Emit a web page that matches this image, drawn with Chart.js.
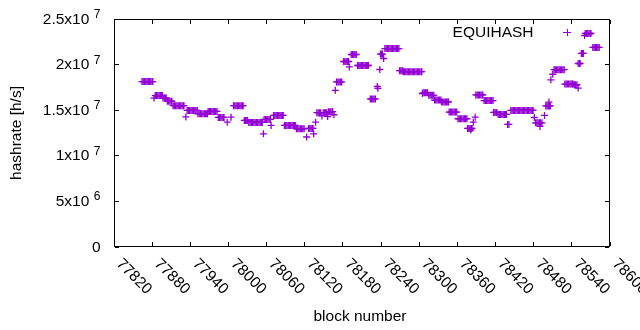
<!DOCTYPE html>
<html>
<head>
<meta charset="utf-8">
<script src="https://cdn.jsdelivr.net/npm/chart.js@4.4.1/dist/chart.umd.min.js"></script>
<style>
  html, body { margin: 0; padding: 0; background: #fff; }
  canvas { display: block; }
</style>
</head>
<body>
<canvas id="hashChart" width="640" height="330"></canvas>
<script>
// blocks, grouped by runs sharing one hashrate value
const blockRuns = [
  [77864, 77866, 77868, 77870, 77872, 77874, 77876, 77878, 77880, 77881],
  [77883],
  [77885, 77887, 77889, 77891, 77893, 77895, 77896],
  [77897, 77899, 77901, 77902],
  [77904, 77906, 77908, 77910, 77911],
  [77913, 77915, 77917, 77919, 77921, 77923, 77925, 77927, 77929, 77930],
  [77933],
  [77935, 77937, 77939, 77941, 77943, 77945, 77947, 77949, 77951],
  [77952, 77954, 77956, 77958, 77960, 77962, 77964, 77966, 77967],
  [77968, 77970, 77972, 77974, 77976, 77978, 77980, 77982],
  [77984, 77986, 77988, 77990, 77992, 77993],
  [77998],
  [78004],
  [78008, 78010, 78012, 78014, 78016, 78018, 78020, 78022, 78023],
  [78025, 78027, 78029, 78030],
  [78032, 78034, 78036, 78038, 78040, 78042, 78044, 78046, 78048, 78050, 78052, 78053],
  [78055],
  [78056, 78058, 78060, 78062, 78064, 78066],
  [78067],
  [78071, 78073, 78075, 78077, 78079, 78081, 78083, 78085, 78086],
  [78088, 78090, 78092, 78094, 78096, 78098, 78100, 78102, 78104, 78105],
  [78107, 78109, 78111, 78113, 78115, 78117, 78119],
  [78123],
  [78126, 78128, 78130, 78132, 78133],
  [78134],
  [78137],
  [78139, 78141, 78143, 78145],
  [78147],
  [78149, 78151, 78153, 78154],
  [78156],
  [78157, 78159, 78161, 78163, 78164],
  [78166],
  [78168],
  [78170, 78172, 78174, 78176, 78178],
  [78181, 78183, 78185, 78187, 78189],
  [78190],
  [78193, 78195, 78197, 78199, 78201],
  [78203, 78205, 78207, 78209, 78211, 78213, 78215, 78217, 78219, 78220],
  [78223, 78225, 78227, 78229, 78231],
  [78234],
  [78235],
  [78238],
  [78239, 78241, 78242],
  [78244],
  [78246, 78248, 78250, 78252, 78254, 78256, 78258, 78260, 78262, 78264, 78266, 78268],
  [78269, 78271, 78273, 78274],
  [78275, 78277, 78279, 78281, 78283, 78285, 78287, 78289, 78291, 78293, 78295, 78297, 78299, 78301, 78303, 78304],
  [78305],
  [78306, 78308, 78310, 78312, 78313],
  [78315, 78317, 78319, 78321, 78323],
  [78324, 78326, 78328, 78330, 78332, 78334],
  [78335, 78337, 78339, 78341, 78343, 78345, 78346],
  [78347, 78349, 78351, 78353, 78355, 78357, 78359],
  [78361, 78363, 78365, 78367, 78369, 78371, 78373, 78375],
  [78376, 78378, 78380, 78382, 78383],
  [78381],
  [78385],
  [78388],
  [78389, 78391, 78393, 78395, 78397, 78399, 78400],
  [78402, 78404, 78406, 78408, 78410, 78412, 78414, 78416],
  [78417, 78419, 78421, 78422],
  [78424, 78426, 78428, 78430, 78432, 78434, 78436, 78437],
  [78439, 78441],
  [78444, 78446, 78448, 78450, 78452, 78454, 78456, 78458, 78460, 78462, 78464, 78466, 78468, 78470, 78472, 78474, 78476, 78478, 78479],
  [78481],
  [78483, 78485, 78487, 78489, 78491, 78493],
  [78490],
  [78497],
  [78499, 78501, 78503, 78505, 78506],
  [78504],
  [78507],
  [78510],
  [78512, 78514, 78516, 78518, 78520, 78522, 78524, 78526, 78528],
  [78529, 78531, 78533, 78535, 78537, 78539, 78541, 78542],
  [78544, 78546, 78548],
  [78550],
  [78550, 78552, 78553],
  [78555, 78557, 78558],
  [78560],
  [78561, 78563, 78565, 78567, 78569, 78570],
  [78573, 78575, 78577, 78579, 78581, 78583]
];

// hashrate [h/s] of each run above
const runRates = [
  1.814e7, 1.633e7, 1.660e7, 1.635e7, 1.599e7, 1.550e7, 1.426e7, 1.498e7, 1.461e7, 1.487e7,
  1.421e7, 1.369e7, 1.424e7, 1.550e7, 1.388e7, 1.366e7, 1.241e7, 1.399e7, 1.333e7, 1.443e7,
  1.333e7, 1.296e7, 1.206e7, 1.300e7, 1.241e7, 1.369e7, 1.473e7, 1.437e7, 1.473e7, 1.430e7,
  1.484e7, 1.450e7, 1.718e7, 1.810e7, 2.034e7, 1.975e7, 2.111e7, 1.990e7, 1.624e7, 1.760e7,
  1.740e7, 1.946e7, 2.115e7, 2.067e7, 2.176e7, 1.933e7, 1.922e7, 1.682e7, 1.690e7, 1.663e7,
  1.611e7, 1.591e7, 1.479e7, 1.406e7, 1.300e7, 1.283e7, 1.369e7, 1.424e7, 1.668e7, 1.605e7,
  1.476e7, 1.454e7, 1.344e7, 1.498e7, 1.420e7, 1.362e7, 1.322e7, 1.443e7, 1.547e7, 1.589e7,
  1.833e7, 1.894e7, 1.944e7, 1.787e7, 1.779e7, 1.743e7, 2.012e7, 2.122e7, 2.318e7, 2.341e7,
  2.188e7
];

const xTicks = [77820, 77880, 77940, 78000, 78060, 78120, 78180, 78240, 78300, 78360, 78420, 78480, 78540, 78600];
const yTicks = [0, 5e6, 1e7, 1.5e7, 2e7, 2.5e7];
const yTickBase = ['0', '5x10', '1x10', '1.5x10', '2x10', '2.5x10'];
const yTickExp = ['', '6', '7', '7', '7', '7'];

const seriesName = 'EQUIHASH';
const xTitle = 'block number';
const yTitle = 'hashrate [h/s]';

const purple = '#9400d3';
const FONT = '"Liberation Sans", Arial, sans-serif';

const points = [];
blockRuns.forEach((run, i) => {
  run.forEach(b => points.push({ x: b, y: runRates[i] }));
});

// border and inward tics on all four sides (filled 1px bars, crisp)
const frameLines = {
  id: 'frameLines',
  afterDraw(chart) {
    const ctx = chart.ctx;
    const a = chart.chartArea;
    const xs = chart.scales.x;
    const ys = chart.scales.y;
    const L = Math.round(a.left), R = Math.round(a.right) - 1;
    const T = Math.round(a.top), B = Math.round(a.bottom) - 1;
    ctx.save();
    ctx.fillStyle = '#000000';
    ctx.fillRect(L, T, R - L + 1, 1);
    ctx.fillRect(L, B, R - L + 1, 1);
    ctx.fillRect(L, T, 1, B - T + 1);
    ctx.fillRect(R, T, 1, B - T + 1);
    xTicks.forEach(v => {
      const px = Math.floor(xs.getPixelForValue(v));
      ctx.fillRect(px, B - 4, 1, 4);
      ctx.fillRect(px, T + 1, 1, 4);
    });
    yTicks.forEach(v => {
      const py = Math.floor(ys.getPixelForValue(v));
      ctx.fillRect(L + 1, py, 4, 1);
      ctx.fillRect(R - 4, py, 4, 1);
    });
    ctx.restore();
  }
};

// tick labels, axis titles and key
const gnuplotText = {
  id: 'gnuplotText',
  afterDraw(chart) {
    const ctx = chart.ctx;
    const a = chart.chartArea;
    const xs = chart.scales.x;
    const ys = chart.scales.y;
    ctx.save();
    ctx.fillStyle = '#000';
    ctx.textBaseline = 'alphabetic';

    yTicks.forEach((v, i) => {
      const py = ys.getPixelForValue(v);
      const xr = 100.5;
      let expW = 0;
      if (yTickExp[i]) {
        ctx.font = '12px ' + FONT;
        ctx.textAlign = 'right';
        expW = ctx.measureText(yTickExp[i]).width + 4.5;
        ctx.fillText(yTickExp[i], xr, py - 1);
      }
      ctx.font = '15.5px ' + FONT;
      ctx.textAlign = 'right';
      ctx.fillText(yTickBase[i], xr - expW, py + 4.5);
    });

    ctx.font = '15.5px ' + FONT;
    ctx.textAlign = 'left';
    xTicks.forEach(v => {
      const px = xs.getPixelForValue(v);
      ctx.save();
      ctx.translate(px + 1.7, 264.4);
      ctx.rotate(Math.PI / 4);
      ctx.fillText(String(v), 0, 0);
      ctx.restore();
    });

    ctx.textAlign = 'center';
    ctx.fillText(xTitle, (a.left + a.right) / 2 - 2, 321);
    ctx.save();
    ctx.translate(21, (a.top + a.bottom) / 2);
    ctx.rotate(-Math.PI / 2);
    ctx.fillText(yTitle, 0, 0);
    ctx.restore();

    ctx.textAlign = 'right';
    ctx.fillText(seriesName, 533.5, 37);
    ctx.fillStyle = purple;
    ctx.fillRect(563, 32, 8, 1);
    ctx.fillRect(567, 29, 1, 7);
    ctx.restore();
  }
};

new Chart(document.getElementById('hashChart'), {
  type: 'scatter',
  data: {
    datasets: [{
      label: seriesName,
      data: points,
      pointStyle: 'cross',
      pointRadius: 3.5,
      pointBorderWidth: 1.3,
      borderColor: purple,
      backgroundColor: purple,
      showLine: false
    }]
  },
  options: {
    responsive: false,
    animation: false,
    devicePixelRatio: 1,
    layout: { padding: { left: 114, top: 19, right: 30, bottom: 83 } },
    plugins: { legend: { display: false }, tooltip: { enabled: false } },
    scales: {
      x: { type: 'linear', display: false, min: 77820, max: 78600 },
      y: { display: false, min: 0, max: 2.5e7 }
    }
  },
  plugins: [frameLines, gnuplotText]
});
</script>
</body>
</html>
